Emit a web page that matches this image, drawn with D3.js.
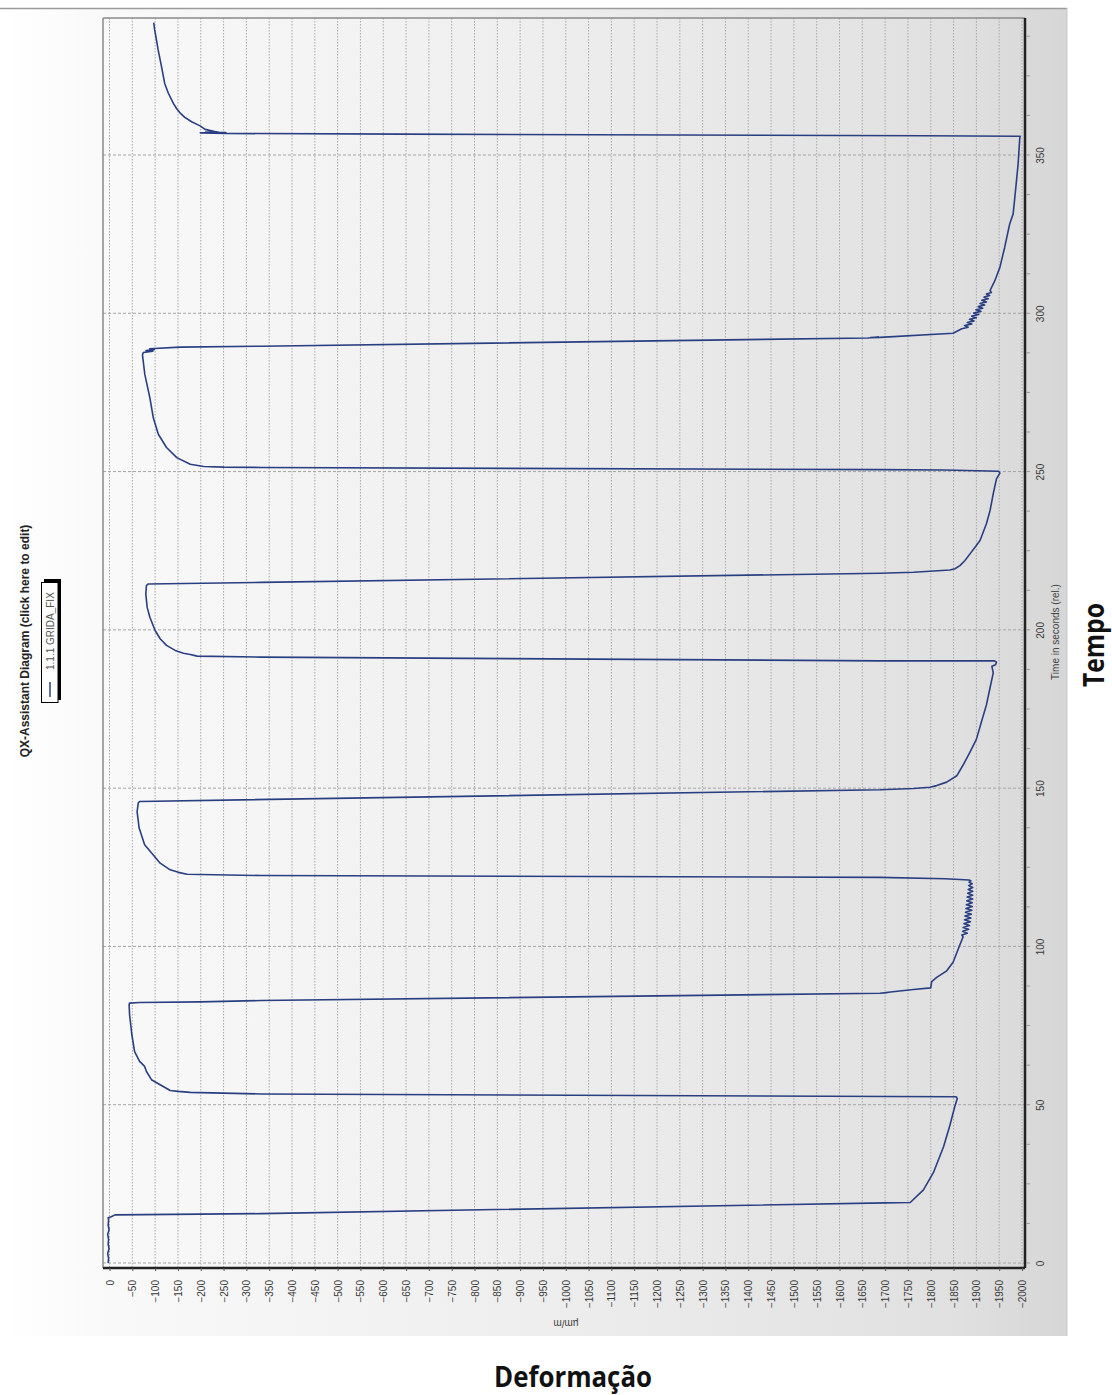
<!DOCTYPE html>
<html><head><meta charset="utf-8">
<script src="https://cdn.jsdelivr.net/npm/d3@7"></script>
<style>html,body{margin:0;padding:0;background:#fff;} svg{display:block;}</style>
</head><body>
<svg id="chart" width="1112" height="1395"></svg>
<script>
// ---- data (time in s, strain in µm/m) ----
const strainTicks = d3.range(0, -2001, -50);
const timeTicks = d3.range(0, 351, 50);
const chartTitle = "QX-Assistant Diagram (click here to edit)";
const seriesName = "1.1.1 GRIDA_FIX";

const cycle1 = [[0,3],[1.5,2],[3,4],[4.5,1],[6,3],[7.5,2],[9,4],[10.5,1],[12,3],[13.5,2],[14.3,3],[14.6,-4],[15.2,-12],[15.6,-332],[19.0,-1700],[19.1,-1755],[23.1,-1784],[28.6,-1806],[36.7,-1828],[43.5,-1842],[49.6,-1853],[51.9,-1858],[52.5,-1856],[53.4,-332],[53.9,-177],[54.2,-151],[54.5,-133]];
const cycle2 = [[56.3,-111],[57.9,-92],[60.5,-81],[62.1,-77],[63.7,-66],[66.8,-55],[72.1,-49],[78.4,-44],[81.6,-43],[82.1,-44],[82.3,-66],[82.5,-199],[82.9,-332],[85.2,-1689],[85.4,-1702],[85.6,-1712],[86.4,-1762],[86.9,-1800],[88.9,-1802],[90.2,-1813],[92.3,-1835],[95.0,-1849],[99.1,-1860],[103.1,-1871],[103.6,-1868],[104.2,-1880],[104.8,-1870],[105.4,-1883],[106.0,-1871],[106.6,-1885],[107.2,-1873],[107.8,-1887],[108.4,-1874],[109.0,-1888],[109.6,-1875],[110.2,-1889],[110.8,-1876],[111.4,-1890],[112.0,-1877],[112.6,-1891],[113.2,-1878],[113.8,-1891],[114.4,-1879],[115.0,-1892],[115.6,-1880],[116.2,-1892],[116.8,-1881],[117.4,-1892],[118.0,-1882],[118.6,-1892],[119.2,-1883],[119.8,-1891],[120.3,-1884],[120.7,-1888],[121.0,-1884],[121.4,-1831],[121.8,-1689],[122.4,-332],[122.8,-170],[123.4,-151],[124.2,-133]];
const cycle3 = [[126.3,-111],[128.9,-96],[132.1,-77],[137.4,-65],[142.6,-60.5],[145.3,-63],[145.8,-66],[149.5,-1689],[149.9,-1762],[150.3,-1798],[150.8,-1813],[151.9,-1835],[153.9,-1857],[157.3,-1871],[161.4,-1886],[165.4,-1900],[170.9,-1911],[176.3,-1922],[181.7,-1930],[186.4,-1937],[188.5,-1934],[189.0,-1942],[189.8,-1944],[190.2,-1940],[190.2,-1689],[191.4,-332],[191.7,-192],[192.2,-177],[192.6,-162]];
const cycle4 = [[193.5,-144],[195.1,-125],[197.2,-111],[199.8,-100],[204.0,-88.5],[207.1,-82.6],[211.3,-79.6],[214.0,-81],[214.5,-85],[215.0,-332],[217.9,-1689],[218.2,-1762],[218.5,-1798],[218.9,-1842],[219.3,-1853],[220.3,-1864],[221.9,-1875],[224.0,-1886],[226.1,-1897],[228.2,-1908],[233.5,-1922],[237.7,-1930],[243.0,-1937],[247.7,-1944],[249.5,-1951.5],[250.1,-1949],[250.5,-1831],[250.6,-1689],[251.3,-332],[251.4,-251],[251.6,-206.5],[252.3,-177]];
const cycle5 = [[254.4,-147.5],[257.6,-125],[261.8,-107],[267.0,-96],[273.3,-88.5],[280.7,-77.4],[286.8,-72.3],[287.6,-74],[288.0,-95],[288.2,-80],[288.5,-98],[288.8,-88],[289.3,-155],[289.6,-332],[292.2,-1662],[292.5,-1686],[292.3,-1668],[292.4,-1689],[293.7,-1849],[295.1,-1868],[295.6,-1882],[296.1,-1874],[296.6,-1890],[297.1,-1880],[297.6,-1895],[298.1,-1885],[298.6,-1900],[299.1,-1890],[299.6,-1905],[300.1,-1894],[300.6,-1910],[301.1,-1899],[301.6,-1914],[302.1,-1904],[302.6,-1918],[303.1,-1908],[303.6,-1922],[304.1,-1912],[304.6,-1926],[305.1,-1917],[305.6,-1929],[306.1,-1922],[306.6,-1933],[307.2,-1930],[310.3,-1940.5],[314.5,-1951.5],[320.8,-1962],[328.2,-1973],[331.4,-1980.6],[339.8,-1986.5],[347.2,-1991.5],[355.1,-1995],[355.9,-1996],[356.1,-1784],[356.6,-640],[356.8,-257]];
const cycle6 = [[357.0,-199],[357.1,-255],[357.2,-210],[357.1,-240],[358.1,-209.6],[359.2,-198.5],[360.5,-180],[361.9,-165],[363.4,-154],[364.7,-147],[366.3,-140],[369.5,-129],[372.6,-121],[377.9,-114],[383.2,-106.6],[386.3,-103],[389.5,-99],[391.8,-97]];
const trace = [].concat(cycle1, cycle2, cycle3, cycle4, cycle5, cycle6);

// ---- layout ----
const frame = {left:103, right:1025, top:18, bottom:1268};
const x = d3.scaleLinear().domain([0,-2000]).range([109.5,1022]);
const y = d3.scaleLinear().domain([0,350]).range([1263,155]);
const FONT = "'Liberation Sans', Arial, sans-serif";

const svg = d3.select('#chart');
const defs = svg.append('defs');
const g1 = defs.append('linearGradient').attr('id','bg').attr('x1','0%').attr('x2','100%').attr('y1','0%').attr('y2','0%');
[[0,'#ffffff'],[0.1,'#f9f9f9'],[0.5,'#eeeeee'],[0.9,'#e0e0e0'],[1,'#d6d6d6']].forEach(s=>g1.append('stop').attr('offset',s[0]).attr('stop-color',s[1]));

svg.append('rect').attr('x',0).attr('y',8).attr('width',1067).attr('height',1328).attr('fill','url(#bg)');
svg.append('line').attr('x1',0).attr('x2',1067).attr('y1',8.5).attr('y2',8.5).attr('stroke','#9a9a9a').attr('stroke-width',1.5);
svg.append('line').attr('x1',1067).attr('x2',1067).attr('y1',8).attr('y2',1336).attr('stroke','#c8c8c8');

// grid
const grid = svg.append('g');
grid.selectAll('line.v').data(strainTicks).join('line')
  .attr('x1',d=>x(d)).attr('x2',d=>x(d)).attr('y1',frame.top).attr('y2',frame.bottom)
  .attr('stroke','#a9a9a9').attr('stroke-width',1).attr('stroke-dasharray','1.5,1.5');
grid.selectAll('line.h').data(timeTicks).join('line')
  .attr('x1',frame.left).attr('x2',frame.right).attr('y1',d=>y(d)).attr('y2',d=>y(d))
  .attr('stroke','#a5a5a5').attr('stroke-width',1).attr('stroke-dasharray','3,2');

// frame
svg.append('line').attr('x1',frame.left).attr('x2',frame.left).attr('y1',frame.top).attr('y2',frame.bottom).attr('stroke','#8a8a8a').attr('stroke-width',1.5);
svg.append('line').attr('x1',frame.left).attr('x2',frame.right).attr('y1',frame.top).attr('y2',frame.top).attr('stroke','#8a8a8a').attr('stroke-width',1.5);

// trace
const line = d3.line().x(d=>x(d[1])).y(d=>y(d[0]));
svg.append('path').datum(trace).attr('d',line).attr('fill','none')
  .attr('stroke','#2a3f82').attr('stroke-width',1.6).attr('stroke-linejoin','round');

// strain axis (bottom)
const xAxis = d3.axisBottom(x).tickValues(strainTicks).tickSize(3).tickSizeOuter(0).tickFormat(d3.format('d'));
const gx = svg.append('g').attr('transform',`translate(0,${frame.bottom})`).call(xAxis);
gx.select('.domain').attr('d',`M${frame.left},0H${frame.right}`).attr('stroke','#222').attr('stroke-width',2.5);
gx.selectAll('.tick line').attr('stroke','#555');
gx.selectAll('.tick text').attr('transform','rotate(-90)').attr('x',-12).attr('y',0).attr('dy','0.35em')
  .attr('text-anchor','end').attr('font-family',FONT).attr('font-size',10).attr('fill','#3a3a3a');

// time axis (right)
const yAxis = d3.axisRight(y).tickValues(timeTicks).tickSize(0).tickSizeOuter(0).tickFormat(d3.format('d'));
const gy = svg.append('g').attr('transform',`translate(${frame.right},0)`).call(yAxis);
gy.select('.domain').attr('d',`M0,${frame.top}V${frame.bottom}`).attr('stroke','#222').attr('stroke-width',2.5);
gy.selectAll('.tick text').attr('transform','rotate(-90)').attr('x',0).attr('y',19).attr('dy',0)
  .attr('text-anchor','middle').attr('font-family',FONT).attr('font-size',10).attr('fill','#3a3a3a');
const minorT = d3.range(0, 392, 12.5);
svg.append('g').selectAll('line').data(minorT).join('line')
  .attr('x1',frame.right+1).attr('x2',frame.right+5).attr('y1',d=>y(d)).attr('y2',d=>y(d))
  .attr('stroke','#999').attr('stroke-width',1);

// axis titles
svg.append('text').attr('transform','translate(1059,632) rotate(-90)').attr('text-anchor','middle')
  .attr('font-family',FONT).attr('font-size',10).attr('fill','#444').text('Time in seconds (rel.)');
svg.append('text').attr('transform','translate(566,1320) rotate(180)').attr('text-anchor','middle')
  .attr('font-family',FONT).attr('font-size',10).attr('fill','#444').text('µm/m');

// title
svg.append('text').attr('transform','translate(29,641) rotate(-90)').attr('text-anchor','middle')
  .attr('font-family',FONT).attr('font-size',12).attr('font-weight','bold').attr('fill','#222').text(chartTitle);

// legend
svg.append('rect').attr('x',44).attr('y',579).attr('width',17).attr('height',121).attr('fill','#000');
svg.append('rect').attr('x',41.5).attr('y',582.5).attr('width',16.5).attr('height',120).attr('fill','#fff').attr('stroke','#000').attr('stroke-width',1);
svg.append('line').attr('x1',50).attr('x2',50).attr('y1',682).attr('y2',697).attr('stroke','#2a3f82').attr('stroke-width',1.5);
svg.append('text').attr('transform','translate(54,670) rotate(-90)').attr('text-anchor','start')
  .attr('font-family',FONT).attr('font-size',10).attr('fill','#555').text(seriesName);

// annotations
svg.append('text').attr('x',573).attr('y',1387).attr('text-anchor','middle')
  .attr('font-family',"'Open Sans', sans-serif").attr('font-weight',700).attr('font-size',29)
  .attr('textLength',158).attr('lengthAdjust','spacingAndGlyphs').attr('fill','#111').text('Deformação');
svg.append('text').attr('transform','translate(1104,645) rotate(-90)').attr('text-anchor','middle')
  .attr('font-family',"'Open Sans', sans-serif").attr('font-weight',700).attr('font-size',28)
  .attr('textLength',84).attr('lengthAdjust','spacingAndGlyphs').attr('fill','#111').text('Tempo');
</script>
</body></html>
